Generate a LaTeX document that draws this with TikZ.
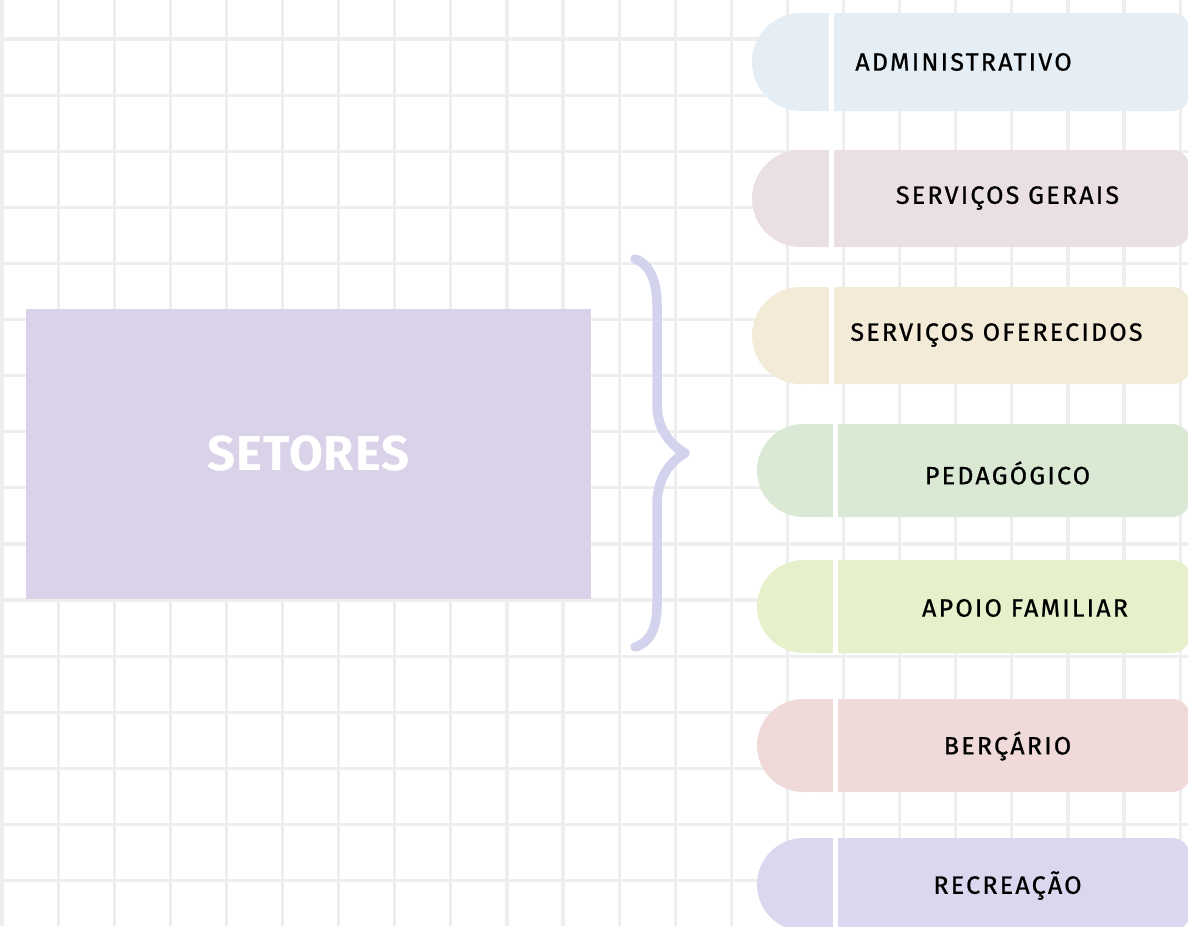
\documentclass[tikz,border=0pt]{standalone}
\usepackage{fontspec}
\setmainfont{Fira Sans}
\newfontfamily\pillfont[LetterSpace=9,FakeBold=0.9]{Fira Sans}
\newfontfamily\titlefont[LetterSpace=2]{Fira Sans Bold}
\definecolor{gridcol}{RGB}{238,238,238}
\definecolor{maincol}{RGB}{217,210,233}
\definecolor{bracecol}{RGB}{212,211,238}
\definecolor{pA}{RGB}{230,238,245}
\definecolor{pB}{RGB}{234,223,228}
\definecolor{pC}{RGB}{243,235,216}
\definecolor{pD}{RGB}{217,233,211}
\definecolor{pE}{RGB}{230,240,203}
\definecolor{pF}{RGB}{239,217,217}
\definecolor{pG}{RGB}{218,215,238}
% #1 colour, #2 left, #3 sep left, #4 top, #5 bottom, #6 node name, #7 text x, #8 text y, #9 text
\newcommand\pillshape[9]{%
  \pgfmathsetmacro\pr{(#5-#4)/2}%
  \pgfmathsetmacro\pcy{(#5+#4)/2}%
  \fill[#1,rounded corners=18pt] ({#2+\pr},#4) rectangle (1190,#5);
  \fill[#1] ({#2+\pr},\pcy) circle[radius=\pr pt];
  \fill[#1] ({#2+\pr},#4) rectangle ({#3+2},#5);
  \fill[white] (#3,{#4-0.5}) rectangle ({#3+5},{#5+0.5});
  \node[pilltext] (#6) at (#7,#8) {#9};
}
\begin{document}
\begin{tikzpicture}[x=1pt,y=-1pt,
  gridline/.style={draw=gridcol,line width=3.2pt},
  pilltext/.style={font=\pillfont\fontsize{25}{25}\selectfont,text=black,inner sep=0pt,anchor=center},
  mainbox/.style={fill=maincol,minimum width=565pt,minimum height=290pt,inner sep=0pt,
    font=\titlefont\fontsize{49}{49}\selectfont,text=white},
  bracestyle/.style={draw=bracecol,line width=9.5pt,line cap=round,line join=round}]
\useasboundingbox (0,0) rectangle (1188,926);
\fill[white] (0,0) rectangle (1188,926);
% grid
\foreach \k in {0,...,21} \draw[gridline] ({2+56.1*\k},0) -- ({2+56.1*\k},926);
\foreach \k in {0,...,15} \draw[gridline] (0,{39+56.1*\k}) -- (1188,{39+56.1*\k});
% main box
\node[mainbox] (setores) at (308.5,454) {SETORES};
% brace
\coordinate (btop) at (635,259);
\coordinate (btip) at (685,453);
\coordinate (bbot) at (635,647);
\draw[bracestyle] (btop) .. controls (650,264) and (657,282) .. (657,305)
  -- (657,405) .. controls (657,430) and (672,446) .. (btip)
  .. controls (670,462) and (657,478) .. (657,505)
  -- (657,605) .. controls (657,628) and (650,643) .. (bbot);
% pills
\pillshape{pA}{752}{829}{13}{111}{adm}{963.5}{62}{ADMINISTRATIVO}
\pillshape{pB}{752}{829}{150}{247}{sg}{1007.5}{198}{SERVIÇOS GERAIS}
\pillshape{pC}{752}{829}{287}{384}{so}{996.5}{335}{SERVIÇOS OFERECIDOS}
\pillshape{pD}{757}{833}{424}{517}{ped}{1007.5}{473}{PEDAGÓGICO}
\pillshape{pE}{757}{833}{560}{653}{af}{1025}{608}{APOIO FAMILIAR}
\pillshape{pF}{757}{833}{699}{792}{ber}{1007.5}{746}{BERÇÁRIO}
\pillshape{pG}{757}{833}{838}{931}{rec}{1007.5}{885.5}{RECREAÇÃO}
\end{tikzpicture}
\end{document}
